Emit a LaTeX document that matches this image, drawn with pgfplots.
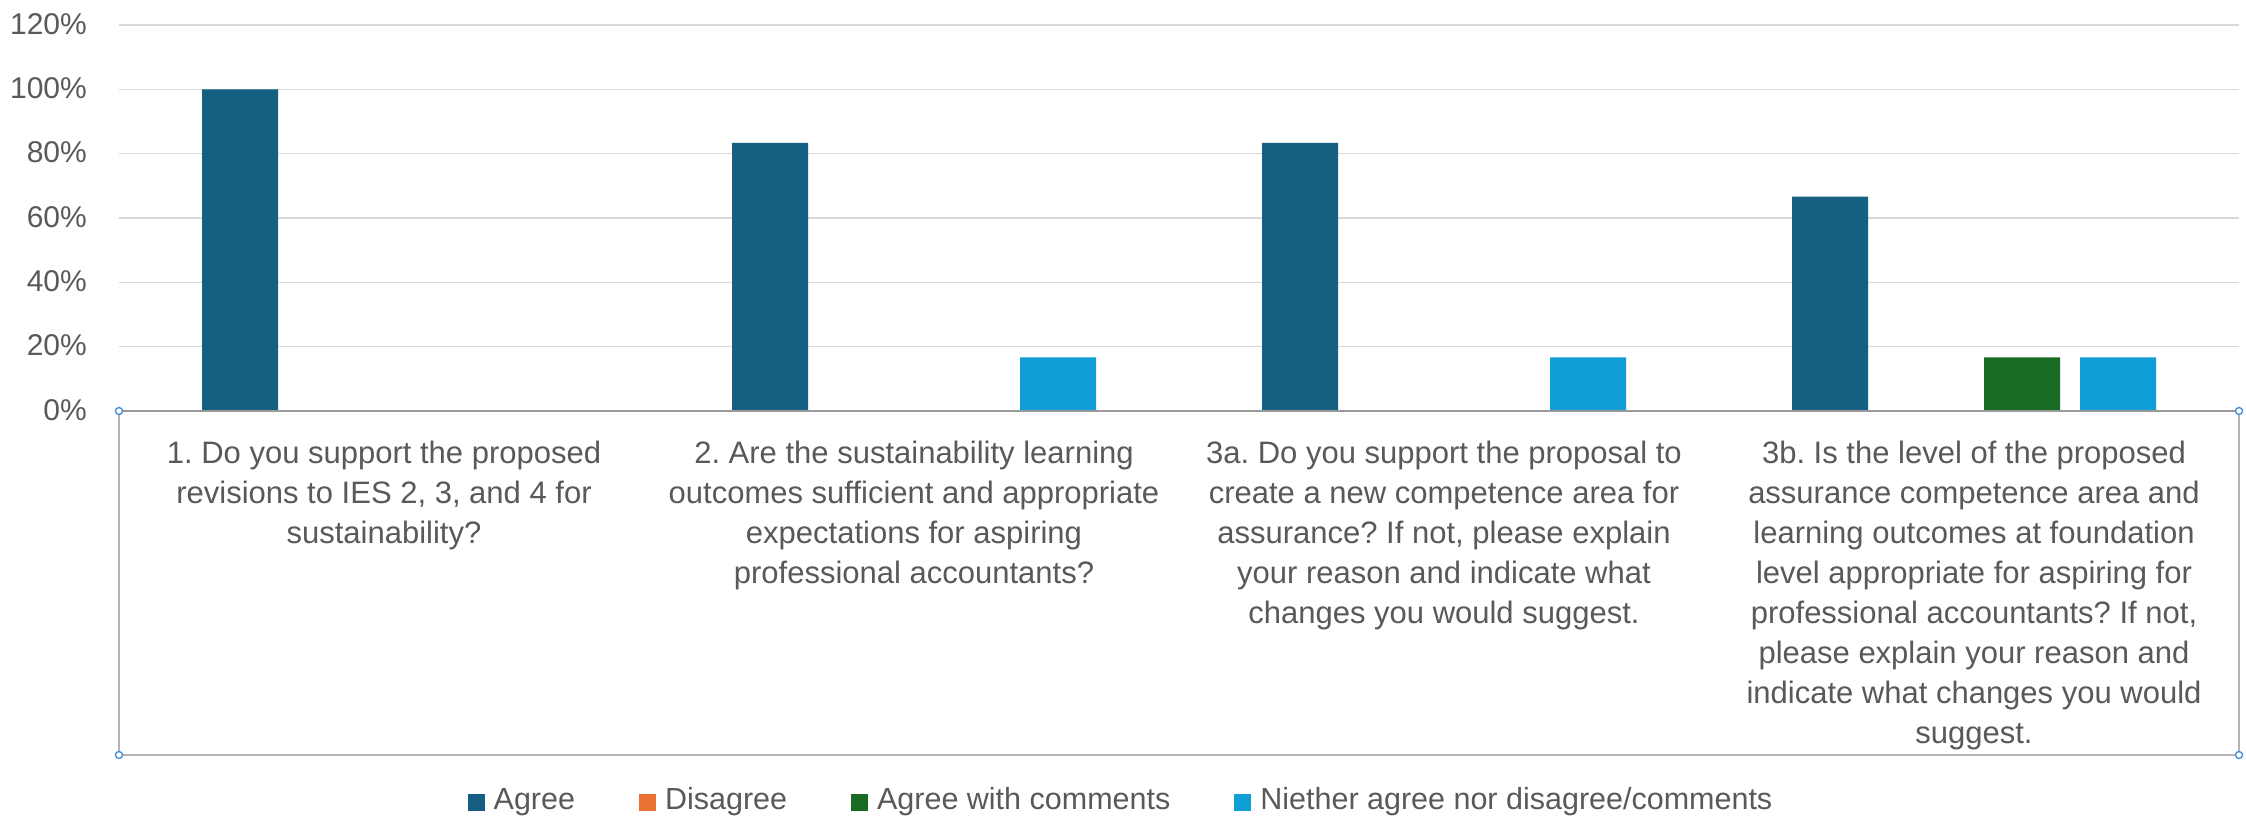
\documentclass[border=0pt]{standalone}
\usepackage{fontspec}
\setmainfont{Liberation Sans}
\usepackage{pgfplots}
\pgfplotsset{compat=1.18}
\definecolor{cAgree}{HTML}{156082}
\definecolor{cDis}{HTML}{E97132}
\definecolor{cAwc}{HTML}{196B24}
\definecolor{cNei}{HTML}{0F9ED5}
\definecolor{txt}{HTML}{595959}
\definecolor{gridc}{HTML}{D9D9D9}
\definecolor{axc}{HTML}{9A9A9A}
\definecolor{boxc}{HTML}{B4B4B4}
\definecolor{handle}{HTML}{3C8AD8}
\frenchspacing
\begin{document}
\begin{tikzpicture}[x=1pt,y=1pt]
\useasboundingbox[fill=white] (0,0) rectangle (2246,817);
% selection box below the axis (frame only)
\draw[boxc, line width=1.6pt] (119,406) -- (119,62) -- (2239,62) -- (2239,406);
\begin{axis}[
  at={(119pt,406pt)}, anchor=south west,
  scale only axis, width=2120pt, height=386pt,
  xmin=-0.5, xmax=3.5, ymin=0, ymax=120,
  ybar=20pt, bar width=76pt,
  legend image code/.code={\fill[#1] (0pt,-8.5pt) rectangle (17pt,8.5pt);},
  axis line style={draw=none},
  major tick length=0pt,
  ymajorgrids, major grid style={gridc, line width=1.5pt},
  ytick={0,20,40,60,80,100,120},
  /pgf/number format/assume math mode=true,
  yticklabel={\pgfmathprintnumber{\tick}\%},
  yticklabel style={font=\fontsize{30}{36}\selectfont, text=txt, inner sep=0pt, anchor=east, xshift=-32pt, yshift=1pt},
  xtick={0,1,2,3},
  xticklabels={
    {1. Do you support the proposed\\revisions to IES 2, 3, and 4 for\\sustainability?},
    {2. Are the sustainability learning\\outcomes sufficient and appropriate\\expectations for aspiring\\professional accountants?},
    {3a. Do you support the proposal to\\create a new competence area for\\assurance? If not, please explain\\your reason and indicate what\\changes you would suggest.},
    {3b. Is the level of the proposed\\assurance competence area and\\learning outcomes at foundation\\level appropriate for aspiring for\\professional accountants? If not,\\please explain your reason and\\indicate what changes you would\\suggest.}
  },
  xticklabel style={font=\fontsize{31}{40}\selectfont, text=txt, align=center, inner sep=0pt, anchor=north, yshift=-30pt},
  legend columns=4,
  legend style={draw=none, fill=none, inner sep=0pt,
    at={(axis description cs:0,0)}, anchor=center, xshift=1001pt, yshift=-391pt,
    font=\fontsize{30.5}{36}\selectfont, text=txt,
    nodes={inner sep=0pt, text height=22pt, text depth=7pt},
    /tikz/every odd column/.append style={column sep=9pt},
    /tikz/every even column/.append style={column sep=64pt}},
  legend cell align=left,
  clip=false,
]
\addplot[fill=cAgree, draw=none] coordinates {(0,100) (1,83.33) (2,83.33) (3,66.67)};
\addplot[fill=cDis, draw=none] coordinates {(0,0) (1,0) (2,0) (3,0)};
\addplot[fill=cAwc, draw=none] coordinates {(0,0) (1,0) (2,0) (3,16.67)};
\addplot[fill=cNei, draw=none] coordinates {(0,0) (1,16.67) (2,16.67) (3,16.67)};
\legend{Agree, Disagree, Agree with comments, Niether agree nor disagree/comments}
\draw[axc, line width=1.8pt] (rel axis cs:0,0) -- (rel axis cs:1,0);
\end{axis}
\foreach \p in {(119,406),(119,62),(2239,406),(2239,62)}
  \draw[handle, fill=white, line width=1.3pt] \p circle (3.5);
\end{tikzpicture}
\end{document}
